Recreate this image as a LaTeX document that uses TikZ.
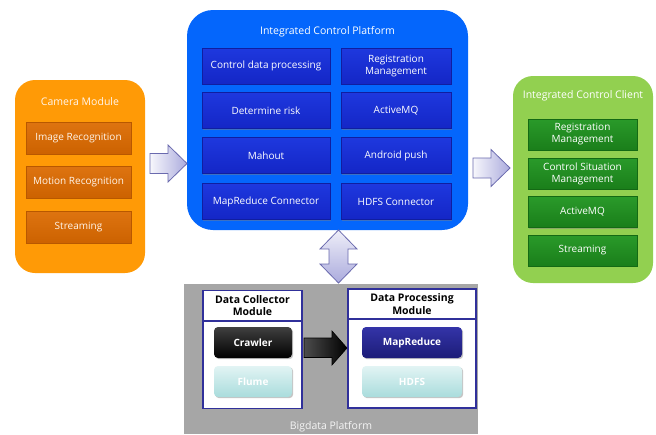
\documentclass[tikz,border=0pt]{standalone}
\usepackage{fontspec}
\setmainfont{Open Sans}
\usetikzlibrary{shadows}
\definecolor{camBg}{HTML}{FF9A06}
\definecolor{camTop}{HTML}{DE7410}
\definecolor{camBot}{HTML}{CC6200}
\definecolor{camEdge}{HTML}{B85800}
\definecolor{icpBg}{HTML}{0466FC}
\definecolor{icpTop}{HTML}{1E38DE}
\definecolor{icpBot}{HTML}{1426C6}
\definecolor{icpEdge}{HTML}{101EA0}
\definecolor{iccBg}{HTML}{92D050}
\definecolor{iccTop}{HTML}{2A9A2A}
\definecolor{iccBot}{HTML}{1A7E1A}
\definecolor{iccEdge}{HTML}{146A14}
\definecolor{bdBg}{HTML}{A6A6A6}
\definecolor{navy}{HTML}{30309A}
\definecolor{arrowEdge}{HTML}{6A6AAE}
\definecolor{arrowDark}{HTML}{ABABDD}
\definecolor{mrTop}{HTML}{3434A8}
\definecolor{mrBot}{HTML}{1C1C78}
\definecolor{cyTop}{HTML}{E2F4F4}
\definecolor{cyBot}{HTML}{A9DCDC}
\begin{document}
\begin{tikzpicture}[x=1pt,y=-1pt,
  every node/.style={inner sep=0pt, align=center},
  txt/.style={font=\fontsize{10}{12}\selectfont},
  ttl/.style={font=\fontsize{10.5}{12}\selectfont},
  group/.style={rounded corners=20pt},
  shad/.style={drop shadow={shadow xshift=1.2pt, shadow yshift=-1.2pt, opacity=0.45}},
  caminner/.style={txt, shad, minimum width=105pt, minimum height=32pt, top color=camTop, bottom color=camBot, draw=camEdge, text=white!92!orange},
  icpinner/.style={txt, shad, minimum height=36pt, top color=icpTop, bottom color=icpBot, draw=icpEdge, text=white},
  iccinner/.style={txt, shad, minimum width=109pt, minimum height=31pt, top color=iccTop, bottom color=iccBot, draw=iccEdge, text=white},
  module/.style={draw=navy, line width=1.3pt, fill=white},
  hdr/.style={font=\bfseries\fontsize{10.5}{12.5}\selectfont},
  bdinner/.style={font=\bfseries\fontsize{10}{12}\selectfont, rounded corners=4pt, shad, minimum height=31pt},
  blockarrow/.style={draw=arrowEdge, line width=0.8pt, line join=miter}
]
\useasboundingbox (0,0) rectangle (656,434);

% ---- Camera module ----
\node[group, fill=camBg, minimum width=130pt, minimum height=193pt] (cam) at (80,176.5) {};
\node[ttl, text=white!92!orange] (camT) at (80,102) {Camera Module};
\node[caminner] (img) at (78.5,138) {Image Recognition};
\node[caminner] (mot) at (78.5,182) {Motion Recognition};
\node[caminner] (cstr) at (78.5,227) {Streaming};

% ---- Integrated control platform ----
\node[group, rounded corners=26pt, fill=icpBg, minimum width=281pt, minimum height=220pt] (icp) at (327.5,120) {};
\node[ttl, text=white] (icpT) at (327.5,32) {Integrated Control Platform};
\node[icpinner, minimum width=128pt] (cdp) at (266,66) {Control data processing};
\node[icpinner, minimum width=128pt] (risk) at (266,110.5) {Determine risk};
\node[icpinner, minimum width=128pt] (mah) at (266,155.5) {Mahout};
\node[icpinner, minimum width=128pt] (mrc) at (266,201.5) {MapReduce Connector};
\node[icpinner, minimum width=110pt] (reg) at (396,66) {Registration\\Management};
\node[icpinner, minimum width=110pt] (amq) at (396,110.5) {ActiveMQ};
\node[icpinner, minimum width=110pt] (apush) at (396,155.5) {Android push};
\node[icpinner, minimum width=110pt] (hdfsc) at (396,201.5) {HDFS Connector};

% ---- Integrated control client ----
\node[group, fill=iccBg, minimum width=140pt, minimum height=207pt] (icc) at (583,179.5) {};
\node[ttl, text=white] (iccT) at (583,96) {Integrated Control Client};
\node[iccinner] (creg) at (582.5,134.5) {Registration\\Management};
\node[iccinner] (csit) at (582.5,173.5) {Control Situation\\Management};
\node[iccinner] (camq) at (582.5,212) {ActiveMQ};
\node[iccinner] (ccstr) at (582.5,250.5) {Streaming};

% ---- Bigdata platform ----
\fill[bdBg] (184,284) rectangle (478,434);
\node[ttl, text=white!92!gray] (bdT) at (331,427) {Bigdata Platform};

\node[module, minimum width=99pt, minimum height=118pt] (col) at (252.5,349.5) {};
\draw[navy, line width=1.3pt] (col.west |- 0,321) -- (col.east |- 0,321);
\node[hdr] (colT) at (252.5,305.5) {Data Collector\\Module};
\node[bdinner, minimum width=78pt, top color=black!75, bottom color=black, text=white] (crw) at (253,342.5) {Crawler};
\node[bdinner, minimum width=78pt, top color=cyTop, bottom color=cyBot, text=white] (flu) at (253,381.5) {Flume};

\node[module, minimum width=128pt, minimum height=119pt] (proc) at (412,348.5) {};
\draw[navy, line width=1.3pt] (proc.west |- 0,319) -- (proc.east |- 0,319);
\node[hdr] (procT) at (412,304) {Data Processing\\Module};
\node[bdinner, minimum width=100pt, top color=mrTop, bottom color=mrBot, text=white] (mr) at (412,342.5) {MapReduce};
\node[bdinner, minimum width=100pt, top color=cyTop, bottom color=cyBot, text=white] (hdfs) at (412,381.5) {HDFS};

% ---- block arrows ----
\path[blockarrow, left color=white!90!arrowDark, right color=arrowDark]
  (150,153.5) -- (168,153.5) -- (168,145) -- (187,163.5) -- (168,182) -- (168,173.5) -- (150,173.5) -- cycle;
\path[blockarrow, left color=white!90!arrowDark, right color=arrowDark]
  (473,158) -- (491,158) -- (491,149.5) -- (510,168) -- (491,186.5) -- (491,178) -- (473,178) -- cycle;
\path[blockarrow, top color=white!80!arrowDark, bottom color=arrowDark]
  (338.5,230) -- (357,249) -- (348,249) -- (348,264) -- (357,264) -- (338.5,283)
  -- (320,264) -- (329,264) -- (329,249) -- (320,249) -- cycle;
\path[draw=black, line width=0.6pt, left color=black!70, right color=black]
  (304,338) -- (332,338) -- (332,331) -- (347,348) -- (332,365) -- (332,357.5) -- (304,357.5) -- cycle;
\end{tikzpicture}
\end{document}
